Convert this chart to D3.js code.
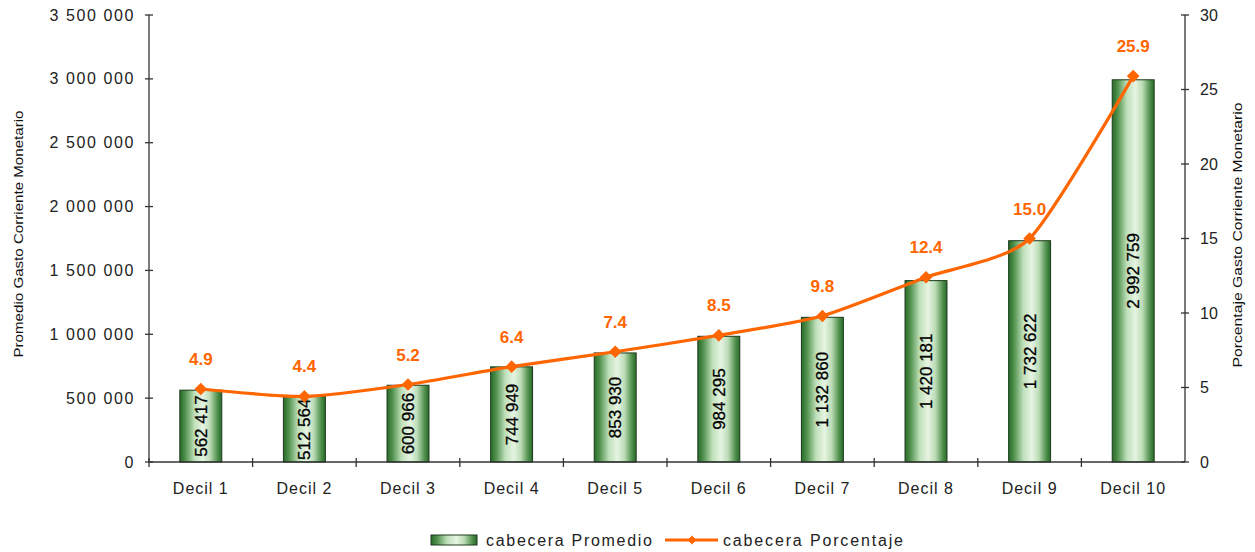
<!DOCTYPE html>
<html><head><meta charset="utf-8">
<script src="https://cdn.jsdelivr.net/npm/d3@7"></script>
<style>body{margin:0;background:#fff;} text{font-family:Arial,"Liberation Sans",sans-serif;}</style>
</head><body><svg id="c" width="1255" height="552"></svg>
<script>
const categories = ["Decil 1","Decil 2","Decil 3","Decil 4","Decil 5","Decil 6","Decil 7","Decil 8","Decil 9","Decil 10"];
const promedio = [562417, 512564, 600966, 744949, 853930, 984295, 1132860, 1420181, 1732622, 2992759];
const porcentaje = [4.9, 4.4, 5.2, 6.4, 7.4, 8.5, 9.8, 12.4, 15.0, 25.9];
const leftTicks = [0, 500000, 1000000, 1500000, 2000000, 2500000, 3000000, 3500000];
const rightTicks = [0, 5, 10, 15, 20, 25, 30];
const seriesNames = ["cabecera Promedio", "cabecera Porcentaje"];
const axisTitles = ["Promedio Gasto Corriente Monetario", "Porcentaje Gasto Corriente Monetario"];

const svg = d3.select("#c");
const L = 149, R = 1185, T = 15, B = 462;
const orange = "#FF6600";
const fmt = v => d3.format(",")(v).replace(/,/g, " ");

const x = d3.scaleBand().domain(categories).range([L, R]).padding(0);
const yL = d3.scaleLinear().domain([0, 3500000]).range([B, T]);
const yR = d3.scaleLinear().domain([0, 30]).range([B, T]);

const defs = svg.append("defs");
const g = defs.append("linearGradient").attr("id","barg").attr("x1","0").attr("x2","1").attr("y1","0").attr("y2","0");
[[0,"#2a6a2a"],[0.12,"#4c8e4a"],[0.35,"#bfe0ba"],[0.55,"#e6f4e2"],[0.72,"#bcdcb6"],[0.9,"#4f8f4c"],[1,"#2a6a2a"]]
  .forEach(([o,c]) => g.append("stop").attr("offset", o).attr("stop-color", c));

// bars
const bw = x.bandwidth() * 0.405;
svg.append("g").selectAll("rect").data(promedio).join("rect")
  .attr("x", (d,i) => x(categories[i]) + x.bandwidth()/2 - bw/2)
  .attr("y", d => yL(d))
  .attr("width", bw)
  .attr("height", d => B - yL(d))
  .attr("fill", "url(#barg)")
  .attr("stroke", "#1c3a1c").attr("stroke-width", 1);

// bar labels
svg.append("g").selectAll("text").data(promedio).join("text")
  .attr("transform", (d,i) => `translate(${x(categories[i]) + x.bandwidth()/2 + 6},${(yL(d)+B)/2}) rotate(-90)`)
  .attr("text-anchor", "middle")
  .attr("font-size", 17).attr("fill", "#000").attr("stroke", "#000").attr("stroke-width", 0.3)
  .text(d => fmt(d));

// axes
const axes = svg.append("g").attr("stroke", "#333").attr("stroke-width", 1.3);
axes.append("line").attr("x1", L).attr("x2", L).attr("y1", T).attr("y2", B);
axes.append("line").attr("x1", R).attr("x2", R).attr("y1", T).attr("y2", B);
axes.append("line").attr("x1", L).attr("x2", R).attr("y1", B).attr("y2", B);
leftTicks.forEach(t => axes.append("line").attr("x1", L-4).attr("x2", L+4).attr("y1", yL(t)).attr("y2", yL(t)));
rightTicks.forEach(t => axes.append("line").attr("x1", R-4).attr("x2", R+4).attr("y1", yR(t)).attr("y2", yR(t)));
categories.forEach((c,i) => { const xx = x(c); axes.append("line").attr("x1", xx).attr("x2", xx).attr("y1", B-4).attr("y2", B+5); });

svg.append("g").selectAll("text").data(leftTicks).join("text")
  .attr("x", 135).attr("y", d => yL(d) + 5.5).attr("text-anchor", "end")
  .attr("font-size", 16).attr("letter-spacing", 1.6).attr("fill", "#222")
  .text(d => fmt(d));
svg.append("g").selectAll("text").data(rightTicks).join("text")
  .attr("x", 1200).attr("y", d => yR(d) + 5.5).attr("text-anchor", "start")
  .attr("font-size", 16).attr("fill", "#222")
  .text(d => d);
svg.append("g").selectAll("text").data(categories).join("text")
  .attr("x", d => x(d) + x.bandwidth()/2).attr("y", 494).attr("text-anchor", "middle")
  .attr("font-size", 16).attr("letter-spacing", 1).attr("fill", "#222")
  .text(d => d);

svg.append("text").attr("transform", "translate(23,234) rotate(-90)").attr("text-anchor","middle")
  .attr("font-size", 13.5).attr("fill","#111").attr("textLength", 247).attr("lengthAdjust","spacingAndGlyphs")
  .text(axisTitles[0]);
svg.append("text").attr("transform", "translate(1242,235) rotate(-90)").attr("text-anchor","middle")
  .attr("font-size", 13.5).attr("fill","#111").attr("textLength", 265).attr("lengthAdjust","spacingAndGlyphs")
  .text(axisTitles[1]);

// line
const pts = porcentaje.map((v,i) => [x(categories[i]) + x.bandwidth()/2, yR(v)]);
svg.append("path").attr("d", d3.line().curve(d3.curveCardinal.tension(0.35))(pts))
  .attr("fill","none").attr("stroke", orange).attr("stroke-width", 3.2);
svg.append("g").selectAll("path").data(pts).join("path")
  .attr("d", d3.symbol().type(d3.symbolSquare).size(80))
  .attr("transform", d => `translate(${d[0]},${d[1]}) rotate(45)`)
  .attr("fill", orange);
svg.append("g").selectAll("text").data(porcentaje).join("text")
  .attr("x", (d,i) => pts[i][0]).attr("y", (d,i) => pts[i][1] - 24)
  .attr("text-anchor","middle").attr("font-size", 17).attr("font-weight","bold").attr("fill", orange)
  .text(d => d.toFixed(1));

// legend
const lg = svg.append("g");
lg.append("rect").attr("x", 431).attr("y", 535).attr("width", 46).attr("height", 10)
  .attr("fill","url(#barg)").attr("stroke","#1c3a1c");
lg.append("text").attr("x", 486).attr("y", 546).attr("font-size", 16).attr("fill","#222")
  .attr("textLength", 166).attr("lengthAdjust","spacing").text(seriesNames[0]);
lg.append("line").attr("x1", 665).attr("x2", 718).attr("y1", 540).attr("y2", 540).attr("stroke", orange).attr("stroke-width", 3.2);
lg.append("path").attr("d", d3.symbol().type(d3.symbolSquare).size(40)).attr("transform","translate(692,540) rotate(45)").attr("fill", orange);
lg.append("text").attr("x", 723).attr("y", 546).attr("font-size", 16).attr("fill","#222")
  .attr("textLength", 180).attr("lengthAdjust","spacing").text(seriesNames[1]);
</script></body></html>
